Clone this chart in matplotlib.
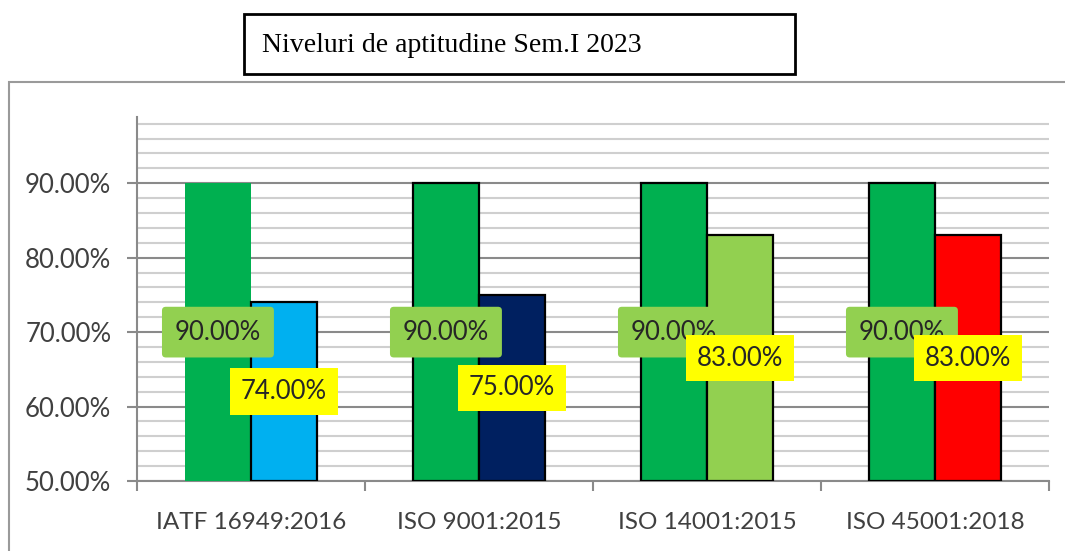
import numpy as np
import matplotlib
matplotlib.use("Agg")
import matplotlib.pyplot as plt
from matplotlib.patches import Rectangle
from matplotlib.ticker import MultipleLocator, FuncFormatter

# data
categories = ["IATF 16949:2016", "ISO 9001:2015", "ISO 14001:2015", "ISO 45001:2018"]
target = [90, 90, 90, 90]
achieved = [74, 75, 83, 83]
achieved_colors = ["#00B0F0", "#002060", "#92D050", "#FF0000"]
target_edges = ["none", "black", "black", "black"]
title = "Niveluri de aptitudine Sem.I 2023"

plt.rcParams['font.family'] = ['Lato', 'DejaVu Sans']

fig = plt.figure(figsize=(10.65, 5.51), dpi=100)
ax = fig.add_axes([137/1065, 1-481/551, (1049-137)/1065, (481-117)/551])

x = np.arange(len(categories))
w = 0.29
base = 50
b1 = ax.bar(x - w/2, np.array(target) - base, w, bottom=base, color="#00B050",
            edgecolor=target_edges, linewidth=1.6, zorder=3)
b2 = ax.bar(x + w/2, np.array(achieved) - base, w, bottom=base, color=achieved_colors,
            edgecolor="black", linewidth=1.6, zorder=3)

# data labels in the middle of each bar
for i in range(len(categories)):
    ax.text(x[i] - w/2, (target[i] + base)/2, f"{target[i]:.2f}%", ha="center", va="center",
            fontsize=18.5, color="#262626", zorder=5,
            bbox=dict(boxstyle="round,pad=0.5,rounding_size=0.15", fc="#92D050", ec="none"))
for i in range(len(categories)):
    ax.text(x[i] + w/2, (achieved[i] + base)/2, f"{achieved[i]:.2f}%", ha="center", va="center",
            fontsize=18.5, color="#262626", zorder=6,
            bbox=dict(boxstyle="square,pad=0.42", fc="#FFFF00", ec="none"))

ax.set_xlim(-0.5, len(categories) - 0.5)
ax.set_ylim(50, 98.9)
ax.yaxis.set_major_locator(MultipleLocator(10))
ax.yaxis.set_minor_locator(MultipleLocator(2))
ax.yaxis.set_major_formatter(FuncFormatter(lambda v, p: f"{v:.2f}%"))
ax.grid(which="minor", axis="y", color="#cfcfcf", linewidth=1.5)
ax.grid(which="major", axis="y", color="#8a8a8a", linewidth=1.5)
ax.set_axisbelow(True)

ax.set_xticks(x)
ax.set_xticklabels(categories)
ax.set_xticks(np.arange(len(categories) + 1) - 0.5, minor=True)
ax.tick_params(axis="x", which="major", length=0, pad=22, labelsize=17.5, labelcolor="#404040")
ax.tick_params(axis="x", which="minor", length=7, width=1.5, color="#8a8a8a")
ax.tick_params(axis="y", which="major", length=7.5, width=1.5, color="#8a8a8a",
               labelsize=18.5, labelcolor="#404040", pad=11)
ax.tick_params(axis="y", which="minor", length=0)
for s in ["top", "right"]:
    ax.spines[s].set_visible(False)
for s in ["left", "bottom"]:
    ax.spines[s].set_color("#8a8a8a")
    ax.spines[s].set_linewidth(1.5)

# outer chart border
fig.patches.append(Rectangle((9/1065, -0.1), 1.2, 0.1 + 1 - 82/551, transform=fig.transFigure,
                             fill=False, ec="#9a9a9a", lw=1.5))
# title box
fig.patches.append(Rectangle((244/1065, 1-74/551), (795-244)/1065, 60/551, transform=fig.transFigure,
                             fill=False, ec="black", lw=2))
fig.text(262/1065, 1-45/551, title, ha="left", va="center", fontsize=20,
         family=["Liberation Serif", "DejaVu Serif"])

fig.savefig("out.png", dpi=100)
